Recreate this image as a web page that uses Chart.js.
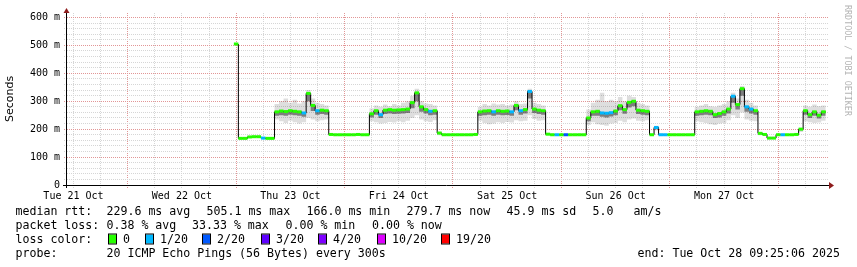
<!DOCTYPE html>
<html>
<head>
<meta charset="utf-8">
<title>smokeping - last 7 days</title>
<script src="https://cdn.jsdelivr.net/npm/chart.js@4.4.1/dist/chart.umd.min.js"></script>
<style>
  html, body { margin: 0; padding: 0; background: #fff; }
</style>
</head>
<body>
<canvas id="pingChart" width="857" height="267"></canvas>
<script>
// hourly samples, first one at 00:30 Thu 23 Oct (hours counted from Tue 21 Oct 00:00)
const startHour = 48.5;

// median rtt in ms
const median = [
  505, 167, 167, 172, 173, 173, 168, 167, 167, 262,
  265, 263, 266, 264, 262, 258, 328, 285, 266, 268,
  266, 181, 180, 180, 180, 180, 180, 181, 180, 180,
  255, 266, 252, 268, 270, 268, 269, 270, 272, 295,
  330, 280, 270, 264, 266, 186, 180, 180, 180, 180,
  180, 180, 180, 181, 262, 265, 266, 262, 266, 264,
  265, 262, 285, 266, 270, 335, 272, 268, 266, 182,
  180, 180, 180, 180, 180, 180, 180, 180, 240, 262,
  264, 258, 257, 259, 265, 284, 270, 296, 300, 268,
  266, 264, 180, 206, 180, 180, 180, 180, 180, 180,
  180, 180, 262, 264, 266, 264, 252, 256, 262, 272,
  318, 288, 345, 280, 272, 266, 185, 181, 168, 168,
  180, 180, 180, 180, 181, 200, 266, 252, 262, 250,
  262
];

// slowest ping of each sample
const smokeMax = [
  580, 170, 170, 176, 176, 176, 172, 170, 170, 290,
  300, 310, 295, 305, 292, 300, 340, 310, 295, 290,
  285, 184, 183, 183, 184, 183, 183, 184, 183, 183,
  275, 285, 280, 288, 282, 290, 285, 295, 300, 320,
  345, 300, 292, 290, 285, 192, 184, 183, 183, 184,
  183, 183, 184, 184, 280, 290, 285, 292, 288, 290,
  285, 288, 300, 290, 292, 345, 295, 290, 285, 186,
  184, 183, 183, 184, 183, 183, 184, 183, 270, 295,
  305, 330, 300, 305, 300, 315, 300, 320, 315, 295,
  290, 285, 184, 212, 184, 183, 183, 184, 183, 183,
  183, 184, 280, 285, 290, 282, 280, 285, 290, 300,
  330, 310, 355, 305, 295, 285, 190, 184, 172, 172,
  184, 184, 183, 183, 184, 205, 285, 280, 288, 282,
  285
];

// fastest ping of each sample
const smokeMin = [
  500, 164, 164, 169, 170, 170, 165, 164, 164, 235,
  228, 222, 230, 225, 220, 225, 240, 235, 228, 232,
  235, 178, 177, 177, 178, 177, 177, 178, 177, 177,
  228, 225, 220, 222, 226, 224, 228, 225, 230, 240,
  250, 235, 228, 226, 232, 178, 177, 177, 177, 177,
  177, 177, 177, 178, 230, 222, 218, 220, 225, 222,
  226, 224, 232, 228, 230, 250, 236, 230, 232, 178,
  177, 177, 177, 177, 177, 177, 177, 177, 215, 225,
  218, 215, 212, 220, 222, 230, 225, 235, 238, 230,
  228, 232, 177, 195, 177, 177, 177, 177, 177, 177,
  177, 177, 228, 225, 222, 218, 215, 220, 222, 232,
  250, 240, 260, 235, 230, 228, 178, 178, 164, 164,
  177, 177, 177, 177, 178, 190, 228, 225, 222, 224,
  230
];

// lower edge of the dark smoke just under the median
const smokeInner = [
  505, 166, 166, 171, 172, 172, 167, 166, 166, 248,
  250, 248, 252, 250, 248, 244, 300, 265, 252, 254,
  252, 180, 179, 179, 179, 179, 179, 180, 179, 179,
  242, 252, 240, 254, 256, 254, 255, 256, 258, 275,
  300, 262, 256, 250, 252, 183, 179, 179, 179, 179,
  179, 179, 179, 180, 248, 250, 252, 248, 252, 250,
  251, 248, 268, 252, 256, 310, 258, 254, 252, 180,
  179, 179, 179, 179, 179, 179, 179, 179, 228, 248,
  248, 244, 242, 245, 250, 268, 255, 278, 282, 254,
  252, 250, 179, 200, 179, 179, 179, 179, 179, 179,
  179, 179, 248, 250, 252, 250, 240, 242, 248, 256,
  295, 270, 320, 262, 256, 252, 182, 180, 167, 167,
  179, 179, 179, 179, 180, 196, 252, 240, 248, 238,
  248
];

// [sample index, pings lost out of 20]
const lossPoints = [
  [6, 1], [15, 1], [18, 1], [32, 1], [43, 1], [57, 1], [61, 1], [63, 1],
  [65, 1], [71, 1], [73, 2], [81, 1], [82, 1], [83, 1], [93, 1], [94, 1],
  [95, 1], [110, 1], [113, 1], [114, 1], [121, 1]
];

const dayLabels = ["Tue 21 Oct", "Wed 22 Oct", "Thu 23 Oct", "Fri 24 Oct", "Sat 25 Oct", "Sun 26 Oct", "Mon 27 Oct"];
const lossLabels = ["0", "1/20", "2/20", "3/20", "4/20", "10/20", "19/20"];
const lossColors = ["#26ff00", "#00b8ff", "#0059ff", "#5e00ff", "#7e00ff", "#dd00ff", "#ff0000"];
const rttStats = ["229.6 ms avg", "505.1 ms max", "166.0 ms min", "279.7 ms now", "45.9 ms sd", "5.0", "am/s"];
const lossStats = ["0.38 % avg", "33.33 % max", "0.00 % min", "0.00 % now"];
const probeText = "20 ICMP Echo Pings (56 Bytes) every 300s";
const endText = "end: Tue Oct 28 09:25:06 2025";

const hours = median.map((_, i) => startHour + i);
const lost = {};
lossPoints.forEach(([i, n]) => { lost[i] = n; });

// grid every 6 hours (labels at noon), every 20 ms
const xTicks = [];
for (let h = 12; h < 179; h += 6) xTicks.push({ value: h });
const yTicks = [];
for (let v = 0; v <= 600; v += 20) yTicks.push({ value: v });

function lossColor(n) {
  if (!n) return lossColors[0];
  if (n <= 3) return lossColors[n];
  if (n < 10) return lossColors[4];
  if (n < 19) return lossColors[5];
  return lossColors[6];
}

const pts = (arr) => arr.map((v, i) => ({ x: hours[i], y: v }));

const MONO = "'DejaVu Sans Mono', monospace";
const majorGrid = "#e29696";
const minorGrid = "#d6d6d6";

const chrome = {
  id: "chrome",
  afterDraw(chart) {
    const ctx = chart.ctx;
    const a = chart.chartArea;
    ctx.save();

    // axes
    ctx.strokeStyle = "#000";
    ctx.lineWidth = 1;
    ctx.beginPath();
    ctx.moveTo(63, a.bottom + 0.5);
    ctx.lineTo(a.right + 2, a.bottom + 0.5);
    ctx.moveTo(a.left - 0.5, a.bottom + 3);
    ctx.lineTo(a.left - 0.5, a.top - 1);
    ctx.stroke();

    ctx.fillStyle = "#8e1c1c";
    ctx.beginPath();
    ctx.moveTo(a.left - 3.5, a.top);
    ctx.lineTo(a.left + 2.5, a.top);
    ctx.lineTo(a.left - 0.5, a.top - 5);
    ctx.closePath();
    ctx.fill();
    ctx.beginPath();
    ctx.moveTo(a.right + 1, a.bottom - 3);
    ctx.lineTo(a.right + 1, a.bottom + 4);
    ctx.lineTo(a.right + 6, a.bottom + 0.5);
    ctx.closePath();
    ctx.fill();

    // watermark
    ctx.save();
    ctx.translate(847.5, 5);
    ctx.rotate(Math.PI / 2);
    ctx.font = "8.4px " + MONO;
    ctx.fillStyle = "#b4b4b4";
    ctx.textBaseline = "middle";
    ctx.textAlign = "left";
    ctx.fillText("RRDTOOL / TOBI OETIKER", 0, 0);
    ctx.restore();

    // legend block
    ctx.font = "11.6px " + MONO;
    ctx.fillStyle = "#000";
    ctx.textBaseline = "alphabetic";
    ctx.textAlign = "left";
    const rows = [215, 229, 243, 257];

    ctx.fillText("median rtt:", 15.5, rows[0]);
    const rttX = [106.5, 206.5, 306.5, 406.5, 506.5, 592.5, 633.5];
    rttStats.forEach((t, i) => ctx.fillText(t, rttX[i], rows[0]));

    ctx.fillText("packet loss:", 15.5, rows[1]);
    const lossX = [106.5, 192, 285.5, 372];
    lossStats.forEach((t, i) => ctx.fillText(t, lossX[i], rows[1]));

    ctx.fillText("loss color:", 15.5, rows[2]);
    const boxX = [109, 146, 203, 262, 319, 378, 442];
    lossLabels.forEach((t, i) => {
      ctx.fillStyle = lossColors[i];
      ctx.fillRect(boxX[i], rows[2] - 8.5, 7, 9);
      ctx.strokeStyle = "#000";
      ctx.strokeRect(boxX[i] - 0.5, rows[2] - 9, 8, 10);
      ctx.fillStyle = "#000";
      ctx.fillText(t, boxX[i] + 14, rows[2]);
    });

    ctx.fillText("probe:", 15.5, rows[3]);
    ctx.fillText(probeText, 106.5, rows[3]);
    ctx.fillText(endText, 637.5, rows[3]);

    ctx.restore();
  }
};

new Chart(document.getElementById("pingChart"), {
  type: "line",
  data: {
    datasets: [
      {
        // loss-coloured median marks
        data: median.map((v, i) => ({ x: hours[i] - 0.5, y: v })),
        showLine: false,
        pointStyle: "line",
        pointRadius: (c) => {
          const s = c.chart.scales.x;
          return (s.getPixelForValue(1) - s.getPixelForValue(0)) / 2;
        },
        pointBorderWidth: 3,
        pointBorderColor: (c) => lossColor(lost[c.dataIndex]),
        order: 0
      },
      {
        data: pts(median),
        stepped: "after",
        borderColor: "#000",
        borderWidth: 1,
        pointRadius: 0,
        fill: { target: 2 },
        backgroundColor: "rgba(30,30,30,0.5)",
        order: 1
      },
      {
        data: pts(smokeInner),
        stepped: "after",
        borderColor: "transparent",
        pointRadius: 0,
        fill: false,
        order: 2
      },
      {
        data: pts(smokeMin),
        stepped: "after",
        borderColor: "transparent",
        pointRadius: 0,
        fill: false,
        order: 3
      },
      {
        data: pts(smokeMax),
        stepped: "after",
        borderColor: "transparent",
        pointRadius: 0,
        fill: { target: 3 },
        backgroundColor: "rgba(0,0,0,0.13)",
        order: 4
      }
    ]
  },
  options: {
    responsive: false,
    animation: false,
    events: [],
    layout: { padding: { top: 13, right: 29, left: 0, bottom: 0 } },
    plugins: { legend: { display: false }, tooltip: { enabled: false } },
    scales: {
      x: {
        type: "linear",
        min: 10.57,
        max: 179,
        afterBuildTicks: (s) => { s.ticks = xTicks.map((t) => ({ value: t.value })); },
        afterFit: (s) => { s.height = 82; },
        grid: {
          color: (c) => (c.tick && c.tick.value % 24 === 0 ? majorGrid : minorGrid),
          tickLength: 3,
          tickBorderDash: [1, 1]
        },
        border: { display: false, dash: [1, 1] },
        ticks: {
          autoSkip: false,
          maxRotation: 0,
          padding: 2,
          color: "#000",
          font: { family: MONO, size: 10 },
          callback: (v) => (v % 24 === 12 ? dayLabels[Math.floor(v / 24)] : "")
        }
      },
      y: {
        min: 0,
        max: 616,
        afterBuildTicks: (s) => { s.ticks = yTicks.map((t) => ({ value: t.value })); },
        afterFit: (s) => { s.width = 67; },
        title: {
          display: true,
          text: "Seconds",
          color: "#000",
          font: { family: "'DejaVu Sans', sans-serif", size: 11 }
        },
        grid: {
          color: (c) => (c.tick && c.tick.value % 100 === 0 ? majorGrid : minorGrid),
          tickLength: 3,
          tickBorderDash: [1, 1]
        },
        border: { display: false, dash: [1, 1] },
        ticks: {
          autoSkip: false,
          padding: 4,
          color: "#000",
          font: { family: MONO, size: 10 },
          callback: (v) => (v % 100 === 0 ? (v === 0 ? "0" : v + " m") : "")
        }
      }
    }
  },
  plugins: [chrome]
});
</script>
</body>
</html>
